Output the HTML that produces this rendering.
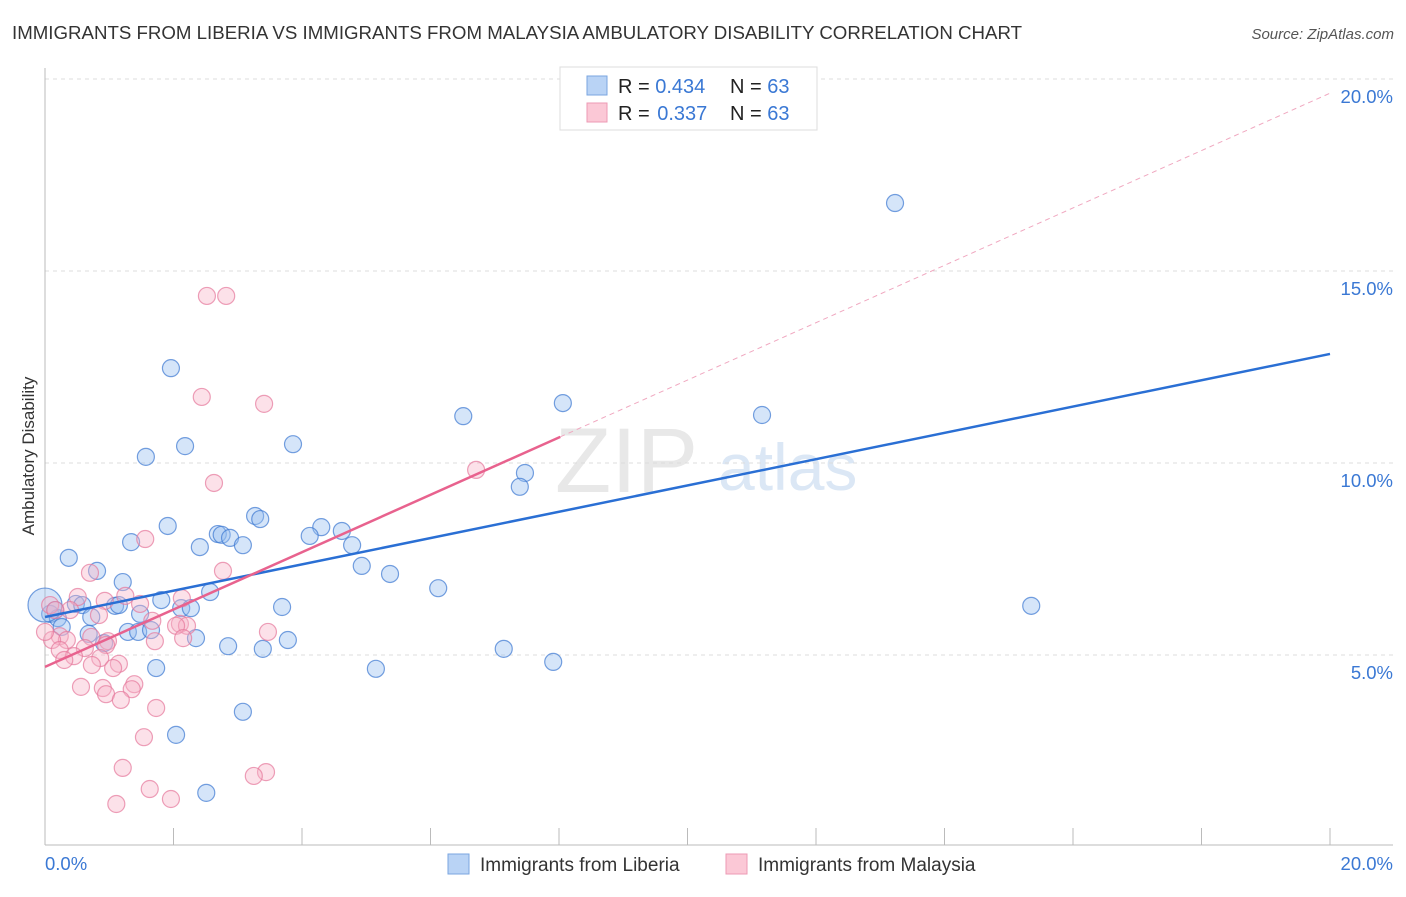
<!DOCTYPE html>
<html><head><meta charset="utf-8">
<style>
body{margin:0;background:#fff;font-family:"Liberation Sans",sans-serif;}
svg text{font-family:"Liberation Sans",sans-serif;}
</style></head>
<body>
<svg id="chart" width="1406" height="892" viewBox="0 0 1406 892">
<text x="12" y="39" font-size="18" fill="#333" textLength="1010" lengthAdjust="spacingAndGlyphs">IMMIGRANTS FROM LIBERIA VS IMMIGRANTS FROM MALAYSIA AMBULATORY DISABILITY CORRELATION CHART</text>
<text x="1394" y="39" font-size="15" fill="#555" font-style="italic" text-anchor="end">Source: ZipAtlas.com</text>
<text x="34" y="456" font-size="17" fill="#333" text-anchor="middle" transform="rotate(-90 34 456)">Ambulatory Disability</text>
<g>
<text x="555" y="492" font-size="92" fill="#e8e8e8" font-family="Liberation Serif">ZIP</text>
<text x="718" y="490" font-size="66" fill="#dbe7f5">atlas</text>
</g>
<g id="grid"></g><g id="axes"></g><g id="pts"></g><g id="trend"></g>
<g>
<rect x="560" y="67" width="257" height="63" fill="#fff" stroke="#ddd"/>
<rect x="587" y="76" width="20" height="19" fill="#b9d3f5" stroke="#7aa6e0"/>
<rect x="587" y="103" width="20" height="19" fill="#fbc8d6" stroke="#ec9ab4"/>
<text x="618" y="93" font-size="20" fill="#222">R = <tspan fill="#3a78d4">0.434</tspan></text>
<text x="730" y="93" font-size="20" fill="#222">N = <tspan fill="#3a78d4">63</tspan></text>
<text x="618" y="120" font-size="20" fill="#222">R = <tspan fill="#3a78d4" dx="2">0.337</tspan></text>
<text x="730" y="120" font-size="20" fill="#222">N = <tspan fill="#3a78d4">63</tspan></text>
</g>
<g>
<rect x="448" y="854" width="21" height="20" fill="#b9d3f5" stroke="#7aa6e0"/>
<text x="480" y="871" font-size="19" fill="#333">Immigrants from Liberia</text>
<rect x="726" y="854" width="21" height="20" fill="#fbc8d6" stroke="#ec9ab4"/>
<text x="758" y="871" font-size="19" fill="#333">Immigrants from Malaysia</text>
</g>
</svg>
<script>
const yTicks=[5,10,15,20];
const yTickLabels=["5.0%","10.0%","15.0%","20.0%"];
const xTickLabels=["0.0%","20.0%"];
const liberiaX=[13.23,8.06,6.51,11.16,1.96,2.18,3.86,1.57,7.47,7.39,1.91,3.27,3.35,4.30,4.62,4.12,1.34,2.41,2.69,2.75,2.88,3.08,4.78,0.37,4.93,5.37,0.81,1.21,6.12,2.57,1.81,2.12,2.27,3.69,15.35,0.48,0.58,1.09,1.15,0.16,0.08,0.20,0.72,1.48,0.26,0.68,1.29,1.45,1.65,2.35,3.78,2.85,3.39,0.92,7.14,7.91,1.73,5.15,3.08,2.04,2.51,0];
const liberiaY=[16.77,11.56,11.22,11.25,12.47,10.44,10.49,10.16,9.74,9.38,8.36,8.62,8.54,8.33,8.23,8.10,7.94,7.81,8.15,8.13,8.05,7.86,7.86,7.53,7.32,7.11,7.19,6.90,6.74,6.64,6.43,6.22,6.22,6.25,6.28,6.33,6.30,6.28,6.30,6.17,6.07,5.96,5.99,6.07,5.73,5.55,5.60,5.60,5.65,5.44,5.39,5.23,5.16,5.31,5.16,4.82,4.66,4.64,3.52,2.92,1.41,6.30];
const malaysiaX=[2.52,2.82,2.44,3.41,6.71,2.63,1.56,2.77,0.70,1.25,0.51,2.13,0.93,0.08,1.48,0.39,0.16,0.84,1.67,2.10,2.21,2.04,3.47,0.72,0.23,0.34,0.11,0.98,1.71,2.15,0.95,0.62,0.23,0.45,0.86,0.30,1.15,0.73,1.06,0.56,1.39,0.90,1.35,0.95,1.18,1.73,1.54,1.21,3.44,3.25,1.63,1.96,1.11,0];
const malaysiaY=[14.35,14.35,11.72,11.54,9.82,9.48,8.02,7.19,7.14,6.54,6.51,6.48,6.41,6.30,6.33,6.17,6.17,6.04,5.89,5.81,5.76,5.76,5.60,5.47,5.49,5.39,5.39,5.36,5.36,5.44,5.26,5.18,5.13,4.97,4.92,4.87,4.77,4.74,4.66,4.17,4.24,4.14,4.11,3.98,3.83,3.62,2.86,2.06,1.95,1.85,1.51,1.25,1.12,5.60];
const liberiaTrend=[5.99,12.84];
const malaysiaTrend=[4.69,0.747];
const NS="http://www.w3.org/2000/svg";
const X=v=>45+v/20*1285, Y=v=>847-v/5*192;
function mk(p,t,a){const e=document.createElementNS(NS,t);for(const k in a)e.setAttribute(k,a[k]);p.appendChild(e);return e;}
const grid=document.getElementById('grid'),axes=document.getElementById('axes'),pts=document.getElementById('pts'),trend=document.getElementById('trend');
yTicks.forEach((t,i)=>{
 const l=mk(grid,'line',{x1:45,x2:1393,y1:Y(t),y2:Y(t),stroke:'#ddd','stroke-dasharray':'4 4'});
 
 
 const tx=mk(axes,'text',{x:1393,y:Y(t)+24,'font-size':18.5,fill:'#3a78d4','text-anchor':'end'});
 tx.textContent=yTickLabels[i];
 
 
});
const ya=mk(axes,'line',{x1:45,x2:45,y1:68,y2:845,stroke:'#bbb'});


const xa=mk(axes,'line',{x1:45,x2:1393,y1:845,y2:845,stroke:'#bbb'});


for(let i=0;i<=10;i++){const tk=mk(axes,'line',{x1:X(i*2),x2:X(i*2),y1:828,y2:845,stroke:'#bbb'});
 
 }
[[0,'start',45],[20,'end',1393]].forEach((d,i)=>{const tx=mk(axes,'text',{x:d[2],y:870,'font-size':18.5,fill:'#3a78d4','text-anchor':d[1]});tx.textContent=xTickLabels[i];
 
 });
liberiaX.forEach((x,i)=>{const big=(x===0);const c=mk(pts,'circle',{cx:X(x),cy:Y(liberiaY[i]),r:big?17:8.5,fill:'rgba(150,190,240,0.4)',stroke:'rgba(60,120,210,0.7)','stroke-width':1.2});
 
 });
malaysiaX.forEach((x,i)=>{const c=mk(pts,'circle',{cx:X(x),cy:Y(malaysiaY[i]),r:8.5,fill:'rgba(248,180,200,0.4)',stroke:'rgba(230,120,155,0.7)','stroke-width':1.2});
 
 });
const bl=mk(trend,'line',{x1:X(0),y1:Y(liberiaTrend[0]),x2:X(20),y2:Y(liberiaTrend[1]),stroke:'#2a6fd4','stroke-width':2.5});


const mEnd=8.02;
const pl=mk(trend,'line',{x1:X(0),y1:Y(malaysiaTrend[0]),x2:X(mEnd),y2:Y(malaysiaTrend[0]+malaysiaTrend[1]*mEnd),stroke:'#e8628e','stroke-width':2.5});


const pd=mk(trend,'line',{x1:X(mEnd),y1:Y(malaysiaTrend[0]+malaysiaTrend[1]*mEnd),x2:X(20),y2:Y(malaysiaTrend[0]+malaysiaTrend[1]*20),stroke:'#f0a8c0','stroke-width':1,'stroke-dasharray':'5 4'});


</script>
</body></html>
